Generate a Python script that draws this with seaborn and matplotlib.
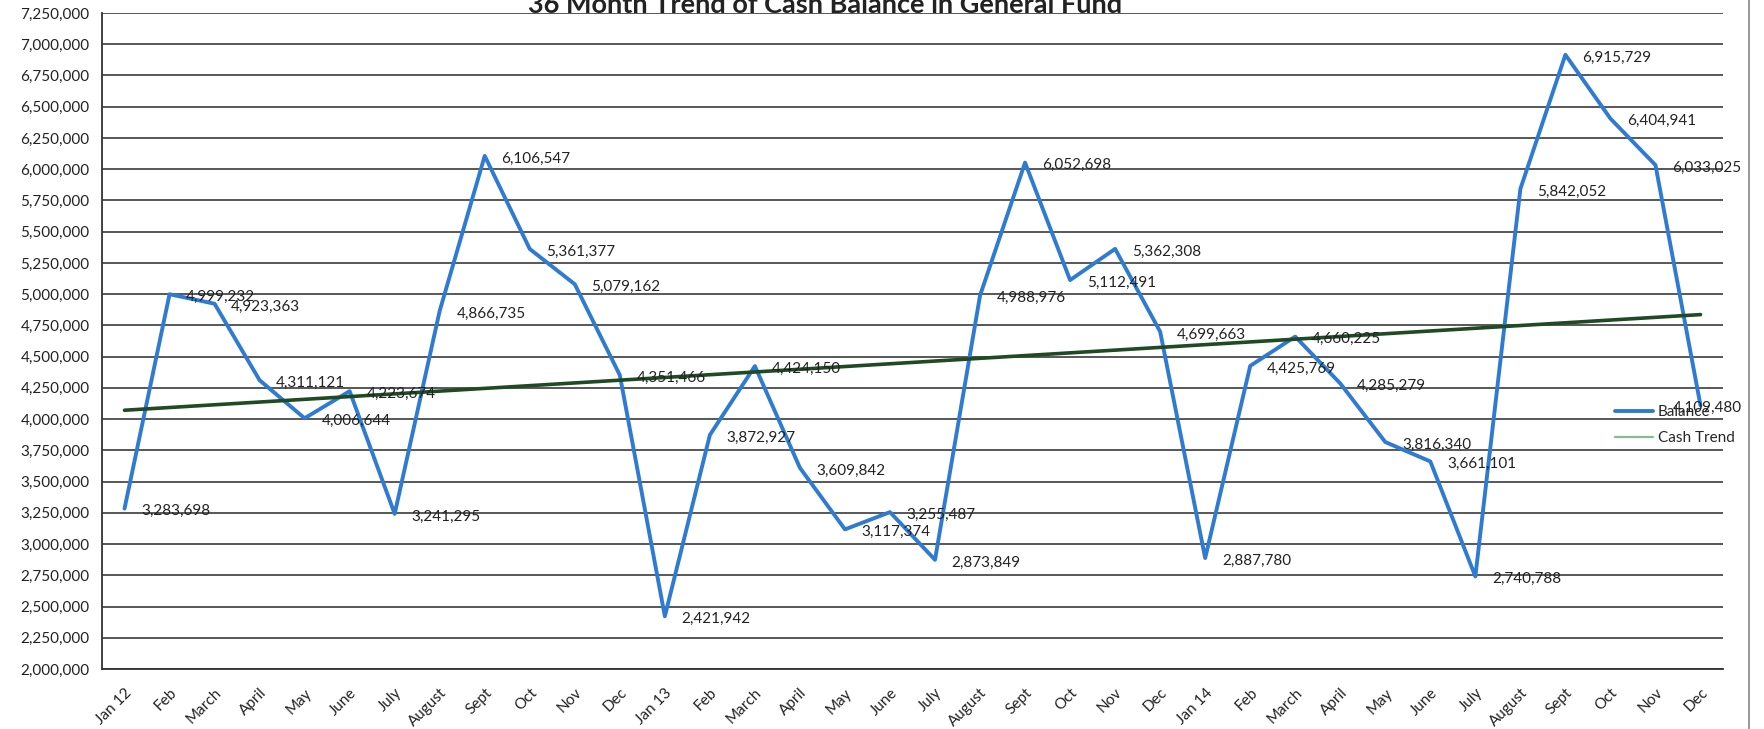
import matplotlib
matplotlib.use("Agg")
import matplotlib.pyplot as plt
from matplotlib.lines import Line2D
from matplotlib.ticker import FuncFormatter
import numpy as np
import pandas as pd
import seaborn as sns

# month labels along the x axis (Jan 2012 - Dec 2014)
months = ["Jan 12", "Feb", "March", "April", "May", "June", "July", "August", "Sept", "Oct", "Nov", "Dec",
          "Jan 13", "Feb", "March", "April", "May", "June", "July", "August", "Sept", "Oct", "Nov", "Dec",
          "Jan 14", "Feb", "March", "April", "May", "June", "July", "August", "Sept", "Oct", "Nov", "Dec"]

# month end cash balance in the general fund
balance = [3283698, 4999232, 4923363, 4311121, 4006644, 4223674, 3241295, 4866735, 6106547, 5361377, 5079162, 4351466,
           2421942, 3872927, 4424150, 3609842, 3117374, 3255487, 2873849, 4988976, 6052698, 5112491, 5362308, 4699663,
           2887780, 4425769, 4660225, 4285279, 3816340, 3661101, 2740788, 5842052, 6915729, 6404941, 6033025, 4109480]

title = "36 Month Trend of Cash Balance in General Fund"

df = pd.DataFrame({"pos": np.arange(len(months)), "month": months, "Balance": balance})

sns.set_style("white")
plt.rcParams["font.family"] = ["Lato", "DejaVu Sans"]

W, H = 1764, 729
fig = plt.figure(figsize=(W / 100, H / 100), dpi=100)
ax = fig.add_axes([102 / W, 1 - 669 / H, (1723 - 102) / W, (669 - 13) / H])

# balance line + linear trend (the fit is done by seaborn)
sns.lineplot(data=df, x="pos", y="Balance", color="#2e7bd1", lw=2.8, label="Balance", ax=ax)
sns.regplot(data=df, x="pos", y="Balance", scatter=False, ci=None, color="#1f4a22",
            line_kws={"lw": 2.6}, label="Cash Trend", ax=ax)

# data labels to the right of each point
for i, v in enumerate(balance):
    dx = 12 if i < len(balance) - 1 else -20
    ax.annotate(f"{v:,}", (i, v), xytext=(dx, -2), textcoords="offset points",
                ha="left", va="center", fontsize=11, color="#222222")

# axes
ax.set_xlim(-0.5, len(months) - 0.5)
ax.set_ylim(2000000, 7250000)
ax.set_yticks(np.arange(2000000, 7250001, 250000))
ax.yaxis.set_major_formatter(FuncFormatter(lambda v, p: f"{v:,.0f}"))
ax.set_xticks(np.arange(len(months)))
ax.set_xticklabels(months, rotation=45, ha="right", rotation_mode="anchor")
ax.set_xticks(np.arange(-0.5, len(months), 1), minor=True)
ax.tick_params(axis="x", which="major", length=0, pad=12, labelsize=11, colors="#222222")
ax.tick_params(axis="x", which="minor", length=4, width=1, color="#444444", direction="out")
ax.tick_params(axis="y", length=5, width=1, color="#444444", labelsize=11, labelcolor="#222222", pad=4)
ax.set_xlabel("")
ax.set_ylabel("")

ax.grid(axis="y", color="#4a4a4a", lw=1.3)
ax.set_axisbelow(True)
for s in ["top", "right"]:
    ax.spines[s].set_visible(False)
for s in ["left", "bottom"]:
    ax.spines[s].set_color("#333333")
    ax.spines[s].set_linewidth(1.3)

# legend
leg = ax.legend(loc="center left", bbox_to_anchor=((1615 - 102) / 1621, (669 - 425) / 656),
                frameon=False, fontsize=11, handlelength=2.5, handletextpad=0.3,
                labelspacing=0.8, borderpad=0, borderaxespad=0)
leg.legend_handles[1].set_color("#7fbf8f")
leg.legend_handles[1].set_linewidth(1.6)

# title (cut off at the top as in the scan) and chart border
fig.text(825 / W, 1 - 13 / H, title, ha="center", va="baseline", fontsize=19.5, fontweight="bold",
         color="#222222")
fig.add_artist(Line2D([1749 / W, 1749 / W], [0, 1], transform=fig.transFigure, color="#888888", lw=1.2))

fig.savefig("out.png", dpi=100)
